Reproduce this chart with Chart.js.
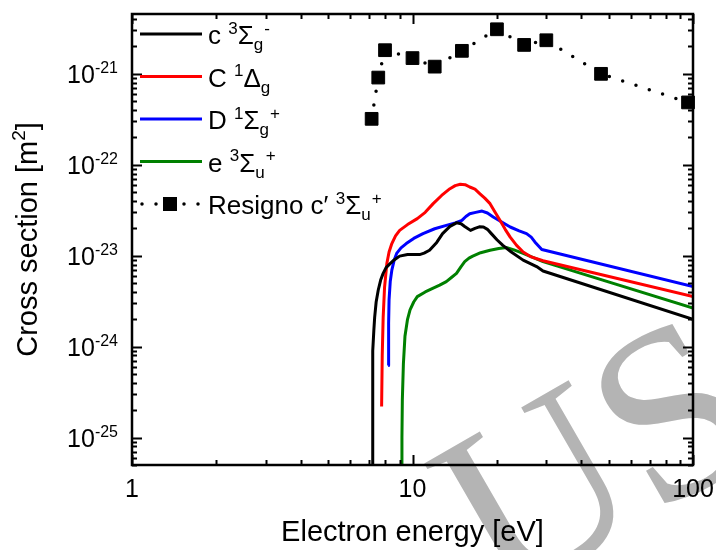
<!DOCTYPE html>
<html>
<head>
<meta charset="utf-8">
<script src="https://cdn.jsdelivr.net/npm/chart.js@4.4.0/dist/chart.umd.min.js"></script>
<style>
  body { margin: 0; background: #fff; }
  #box { width: 716px; height: 550px; }
</style>
</head>
<body>
<div id="box"><canvas id="grafico" width="716" height="550"></canvas></div>
<script>
// energies in eV, cross sections in m^2
const blackE  = [7.18, 7.2, 7.23, 7.28, 7.33, 7.42, 7.55, 7.7, 7.86, 8.05, 8.32, 8.6, 9.0, 9.6, 10.6, 11.0, 11.5, 12.2, 12.8, 13.6, 14.35, 14.9, 15.35, 16.1, 16.7, 17.3, 17.9, 18.5, 19.1, 20.0, 21.0, 22.5, 24.8, 27.7, 29.2, 100];
const blackCS = [1e-26, 3e-25, 9e-25, 1.5e-24, 2.1e-24, 3.1e-24, 4.2e-24, 5.4e-24, 6.4e-24, 7.4e-24, 8.2e-24, 9.0e-24, 9.9e-24, 1.03e-23, 1.03e-23, 1.07e-23, 1.15e-23, 1.4e-23, 1.75e-23, 2.1e-23, 2.3e-23, 2.25e-23, 2.1e-23, 1.9e-23, 2.0e-23, 2.08e-23, 2.07e-23, 1.95e-23, 1.75e-23, 1.5e-23, 1.3e-23, 1.1e-23, 8.95e-24, 7.6e-24, 6.8e-24, 2.0e-24];

const redE  = [7.76, 7.8, 7.86, 7.95, 8.1, 8.25, 8.44, 8.7, 9.0, 9.6, 10.4, 11.1, 11.85, 12.7, 13.6, 14.2, 14.8, 15.4, 16.0, 16.7, 17.4, 18.1, 18.9, 19.7, 20.5, 21.4, 22.3, 23.5, 24.8, 26.5, 29.2, 100];
const redCS = [2.2e-25, 8e-25, 2.1e-24, 4.5e-24, 8.2e-24, 1.1e-23, 1.36e-23, 1.65e-23, 1.9e-23, 2.2e-23, 2.56e-23, 3.0e-23, 3.74e-23, 4.6e-23, 5.46e-23, 5.9e-23, 6.1e-23, 6.05e-23, 5.7e-23, 5.4e-23, 4.8e-23, 4.3e-23, 3.74e-23, 3.0e-23, 2.45e-23, 1.95e-23, 1.6e-23, 1.3e-23, 1.1e-23, 9.7e-24, 8.8e-24, 3.55e-24];

const blueE  = [8.19, 8.22, 8.25, 8.33, 8.44, 8.6, 8.78, 9.1, 9.5, 10.1, 10.9, 12.0, 13.2, 14.2, 15.0, 15.5, 16.0, 16.8, 17.7, 18.5, 19.4, 20.8, 22.3, 24.0, 25.5, 26.5, 27.3, 28.9, 100];
const blueCS = [6.2e-25, 1.8e-24, 3.27e-24, 5.2e-24, 6.95e-24, 8.9e-24, 1.06e-23, 1.22e-23, 1.36e-23, 1.55e-23, 1.75e-23, 1.98e-23, 2.16e-23, 2.3e-23, 2.45e-23, 2.7e-23, 2.9e-23, 3.0e-23, 3.1e-23, 2.95e-23, 2.67e-23, 2.35e-23, 2.07e-23, 1.88e-23, 1.75e-23, 1.6e-23, 1.42e-23, 1.17e-23, 4.57e-24];

const greenE  = [9.12, 9.17, 9.2, 9.28, 9.4, 9.6, 9.8, 10.1, 10.4, 11.1, 11.85, 12.5, 13.2, 13.8, 14.35, 14.9, 15.35, 15.9, 16.4, 17.5, 18.9, 20.3, 21.7, 23.0, 24.8, 29.2, 100];
const greenCS = [1e-26, 1e-25, 2.6e-25, 6.5e-25, 1.3e-24, 2.0e-24, 2.54e-24, 3.1e-24, 3.55e-24, 4.0e-24, 4.4e-24, 4.75e-24, 5.2e-24, 5.8e-24, 6.4e-24, 7.6e-24, 8.6e-24, 9.4e-24, 9.9e-24, 1.08e-23, 1.15e-23, 1.2e-23, 1.23e-23, 1.16e-23, 1.06e-23, 8.6e-24, 2.65e-24];

const resignoE  = [7.15, 7.55, 7.98, 10, 12, 15, 20, 25, 30, 47, 96];
const resignoCS = [3.2e-22, 9.1e-22, 1.82e-21, 1.49e-21, 1.2e-21, 1.79e-21, 3.09e-21, 2.08e-21, 2.34e-21, 1.0e-21, 4.85e-22];

const xTicks = [1, 10, 100];
const yTicks = [-25, -24, -23, -22, -21];

// legend names: [text, 'n' | 'sup' | 'sub']
const names = [
  [['c ', 'n'], ['3', 'sup'], ['Σ', 'n'], ['g', 'sub'], ['-', 'sup']],
  [['C ', 'n'], ['1', 'sup'], ['Δ', 'n'], ['g', 'sub']],
  [['D ', 'n'], ['1', 'sup'], ['Σ', 'n'], ['g', 'sub'], ['+', 'sup']],
  [['e ', 'n'], ['3', 'sup'], ['Σ', 'n'], ['u', 'sub'], ['+', 'sup']],
  [['Resigno c′ ', 'n'], ['3', 'sup'], ['Σ', 'n'], ['u', 'sub'], ['+', 'sup']]
];

const FONT = 'Liberation Sans, Arial, sans-serif';

function pares(xs, ys) {
  return xs.map((x, i) => ({ x: x, y: ys[i] }));
}

function curva(label, xs, ys, cor) {
  return {
    label: label,
    data: pares(xs, ys),
    borderColor: cor,
    backgroundColor: cor,
    borderWidth: 3,
    pointRadius: 0,
    tension: 0,
    borderJoinStyle: 'round'
  };
}

// draws text with super/subscripts, returns width
function richText(ctx, parts, x, y, size, draw) {
  let pos = x;
  parts.forEach(p => {
    let txt = p[0], modo = p[1];
    let s = modo === 'n' ? size : Math.round(size * 0.64);
    let dy = modo === 'sup' ? -size * 0.4 : (modo === 'sub' ? size * 0.24 : 0);
    ctx.font = s + 'px ' + FONT;
    if (draw) ctx.fillText(txt, pos, y + dy);
    pos += ctx.measureText(txt).width;
    if (modo === 'sub') pos += 1;
  });
  return pos - x;
}

const marcaDagua = {
  id: 'marcaDagua',
  beforeDraw(chart) {
    const ctx = chart.ctx;
    ctx.save();
    ctx.translate(500, 605);
    ctx.rotate(-30 * Math.PI / 180);
    ctx.fillStyle = '#b4b4b4';
    ctx.font = '245px Liberation Serif, serif';
    ctx.textBaseline = 'alphabetic';
    ctx.fillText('USO', 0, 0);
    ctx.restore();
  }
};

const eixos = {
  id: 'eixos',
  afterDraw(chart) {
    const ctx = chart.ctx;
    const a = chart.chartArea;
    const sx = chart.scales.x, sy = chart.scales.y;
    ctx.save();
    ctx.strokeStyle = '#000';
    ctx.lineWidth = 2;
    ctx.beginPath();
    // x ticks, bottom and top
    for (let d = 1; d <= 100; d *= 10) {
      for (let m = 1; m <= 9; m++) {
        let v = d * m;
        if (v > 100) break;
        let px = Math.round(sx.getPixelForValue(v)) + 0.5;
        let len = m === 1 ? 10 : 5;
        ctx.moveTo(px, a.bottom); ctx.lineTo(px, a.bottom - len);
        ctx.moveTo(px, a.top); ctx.lineTo(px, a.top + len);
      }
    }
    // y ticks, left and right
    for (let e = -26; e <= -21; e++) {
      for (let m = 1; m <= 9; m++) {
        let v = m * Math.pow(10, e);
        if (v < sy.min || v > sy.max) continue;
        let py = Math.round(sy.getPixelForValue(v)) + 0.5;
        let len = m === 1 ? 10 : 5;
        ctx.moveTo(a.left, py); ctx.lineTo(a.left + len, py);
        ctx.moveTo(a.right, py); ctx.lineTo(a.right - len, py);
      }
    }
    ctx.stroke();
    ctx.lineWidth = 2.5;
    ctx.strokeRect(a.left, a.top, a.right - a.left, a.bottom - a.top);

    // tick labels
    ctx.fillStyle = '#000';
    ctx.textBaseline = 'alphabetic';
    ctx.font = '25px ' + FONT;
    ctx.textAlign = 'center';
    xTicks.forEach(v => {
      ctx.fillText(String(v), sx.getPixelForValue(v), 497);
    });
    ctx.textAlign = 'left';
    yTicks.forEach(e => {
      let py = sy.getPixelForValue(Math.pow(10, e));
      let parts = [['10', 'n'], [String(e), 'sup']];
      let w = richText(ctx, parts, 0, 0, 25, false);
      richText(ctx, parts, 118 - w, py + 9, 25, true);
    });

    // axis titles
    ctx.font = '29px ' + FONT;
    ctx.textAlign = 'center';
    ctx.fillText('Electron energy [eV]', (a.left + a.right) / 2, 541);
    ctx.textAlign = 'left';
    let tit = [['Cross section [m', 'n'], ['2', 'sup'], [']', 'n']];
    let wt = richText(ctx, tit, 0, 0, 29, false);
    ctx.translate(37, (a.top + a.bottom) / 2);
    ctx.rotate(-Math.PI / 2);
    richText(ctx, tit, -wt / 2, 0, 29, true);
    ctx.restore();

    // legend
    ctx.save();
    chart.data.datasets.forEach((ds, i) => {
      let y = 34 + i * 42.5;
      ctx.strokeStyle = ds.borderColor;
      ctx.fillStyle = '#000';
      if (ds.borderDash) {
        ctx.lineWidth = 3.5;
        ctx.lineCap = 'round';
        ctx.setLineDash([0, 14]);
        ctx.beginPath();
        ctx.moveTo(142, y); ctx.lineTo(202, y);
        ctx.stroke();
        ctx.setLineDash([]);
        ctx.fillRect(163, y - 7, 14, 14);
      } else {
        ctx.lineWidth = 3;
        ctx.beginPath();
        ctx.moveTo(140, y); ctx.lineTo(202, y);
        ctx.stroke();
      }
      richText(ctx, names[i], 208, y + 10, 26, true);
    });
    ctx.restore();
  }
};

const graficoSecao = new Chart(document.getElementById('grafico'), {
  type: 'line',
  data: {
    datasets: [
      curva('c 3Σg-', blackE, blackCS, '#000000'),
      curva('C 1Δg', redE, redCS, '#ff0000'),
      curva('D 1Σg+', blueE, blueCS, '#0000ff'),
      curva('e 3Σu+', greenE, greenCS, '#008000'),
      {
        label: "Resigno c' 3Σu+",
        data: pares(resignoE, resignoCS),
        borderColor: '#000',
        backgroundColor: '#000',
        borderWidth: 3.5,
        borderDash: [0, 14],
        borderCapStyle: 'round',
        pointStyle: 'rect',
        pointRadius: 9,
        pointBorderWidth: 1,
        clip: false
      }
    ]
  },
  options: {
    responsive: false,
    animation: false,
    devicePixelRatio: 1,
    layout: { padding: { left: 132, top: 14, right: 23, bottom: 85 } },
    plugins: { legend: { display: false }, tooltip: { enabled: false } },
    scales: {
      x: { type: 'logarithmic', min: 1, max: 100, display: false },
      y: { type: 'logarithmic', min: 5.05e-26, max: 4.55e-21, display: false }
    }
  },
  plugins: [marcaDagua, eixos]
});
</script>
</body>
</html>
